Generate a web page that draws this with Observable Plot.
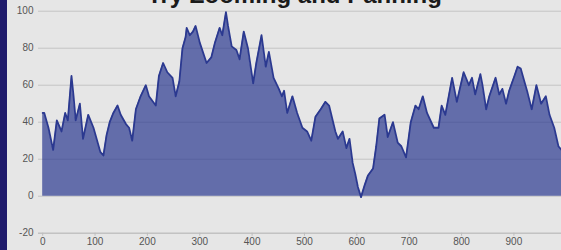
<!DOCTYPE html>
<html><head><meta charset="utf-8">
<script src="https://cdn.jsdelivr.net/npm/d3@7"></script>
<script src="https://cdn.jsdelivr.net/npm/@observablehq/plot@0.6"></script>
<style>
html,body{margin:0;padding:0;background:#e6e6e6;overflow:hidden;width:561px;height:250px}
#wrap{position:relative;width:561px;height:250px;overflow:hidden;background:#e6e6e6}
#border{position:absolute;left:0;top:0;width:7px;height:250px;background:#1f1b6b}
#chart{position:absolute;left:7px;top:0;width:574px;height:250px}
#chart svg{max-width:none !important}
#title{position:absolute;left:0;width:589px;top:-19px;line-height:1;text-align:center;font:bold 24px "Liberation Sans",Arial,sans-serif;color:#1a1a1a;white-space:nowrap}
</style></head>
<body>
<div id="wrap"><div id="chart"></div><div id="border"></div><div id="title">Try Zooming and Panning</div></div>
<script>
const titleText = "Try Zooming and Panning";
const xTicks = [0,100,200,300,400,500,600,700,800,900];
const yTicks = [-20,0,20,40,60,80,100];
const xs = [0,3,11,20,27,36,43,48,55,59,63,71,77,87,97,110,116,122,128,135,143,149,159,165,171,178,187,197,203,216,222,230,238,248,254,261,267,273,275,281,287,292,300,313,322,329,338,343,350,354,361,370,376,384,392,402,408,418,426,432,441,451,457,461,467,477,486,496,505,513,521,531,540,547,553,559,564,573,580,586,592,597,602,608,615,621,631,637,643,653,659,669,678,685,694,703,712,718,726,734,747,756,762,769,782,791,804,814,820,826,836,840,847,853,865,872,878,885,891,901,907,913,920,926,934,943,952,961,968,977,985,991,1000];
const ys = [45,45,37,25,41,35,45,41,65,54,41,50,31,44,37,24,22,33,40,45,49,44,39,37,30,47,54,60,54,49,65,72,67,64,54,62,80,86,91,87,89,92,83,72,75,83,91,87,99.5,92,81,79,74,89,80,61,72,87,70,78,64,58,54,57,45,54,45,37,35,30,43,47,51,49,42,35,31,35,26,31,18,12,5,-0.5,6,11,15,27,42,44,32,40,29,27,21,40,49,47,54,45,37,37,49,44,64,51,67,60,64,55,66,60,47,54,64,55,58,50,57,65,70,69,62,56,47,60,50,54,44,37,27,25,22];
const data = xs.map((x,i)=>({x, y: ys[i]}));
const font = '"Liberation Sans", Arial, sans-serif';
const chart = Plot.plot({
  width: 574, height: 250,
  marginLeft: 31, marginRight: 10, marginTop: 10.7, marginBottom: 17.3,
  style: {background: "transparent", fontFamily: font, fontSize: "10px", color: "#555", maxWidth: "none"},
  x: {domain: [-8, 1010], label: null},
  y: {domain: [-20, 100], label: null},
  marks: [
    Plot.gridY(yTicks, {stroke: "#c4c4c4", strokeOpacity: 1}),
    Plot.areaY(data, {x: "x", y: "y", fill: "#2b3990", fillOpacity: 0.7}),
    Plot.lineY(data, {x: "x", y: "y", stroke: "#2b3990", strokeWidth: 1.8}),
    Plot.ruleY([-20], {stroke: "#bdbdbd"}),
    Plot.axisX(xTicks, {tickSize: 3, tickPadding: 2, stroke: "#bdbdbd", fill: "#555", tickFormat: d => String(d)}),
    Plot.axisY(yTicks, {tickSize: 0, tickPadding: 5, fill: "#555", tickFormat: d => String(d)})
  ]
});
document.getElementById("chart").appendChild(chart);
document.getElementById("title").textContent = titleText;
</script>
</body></html>
